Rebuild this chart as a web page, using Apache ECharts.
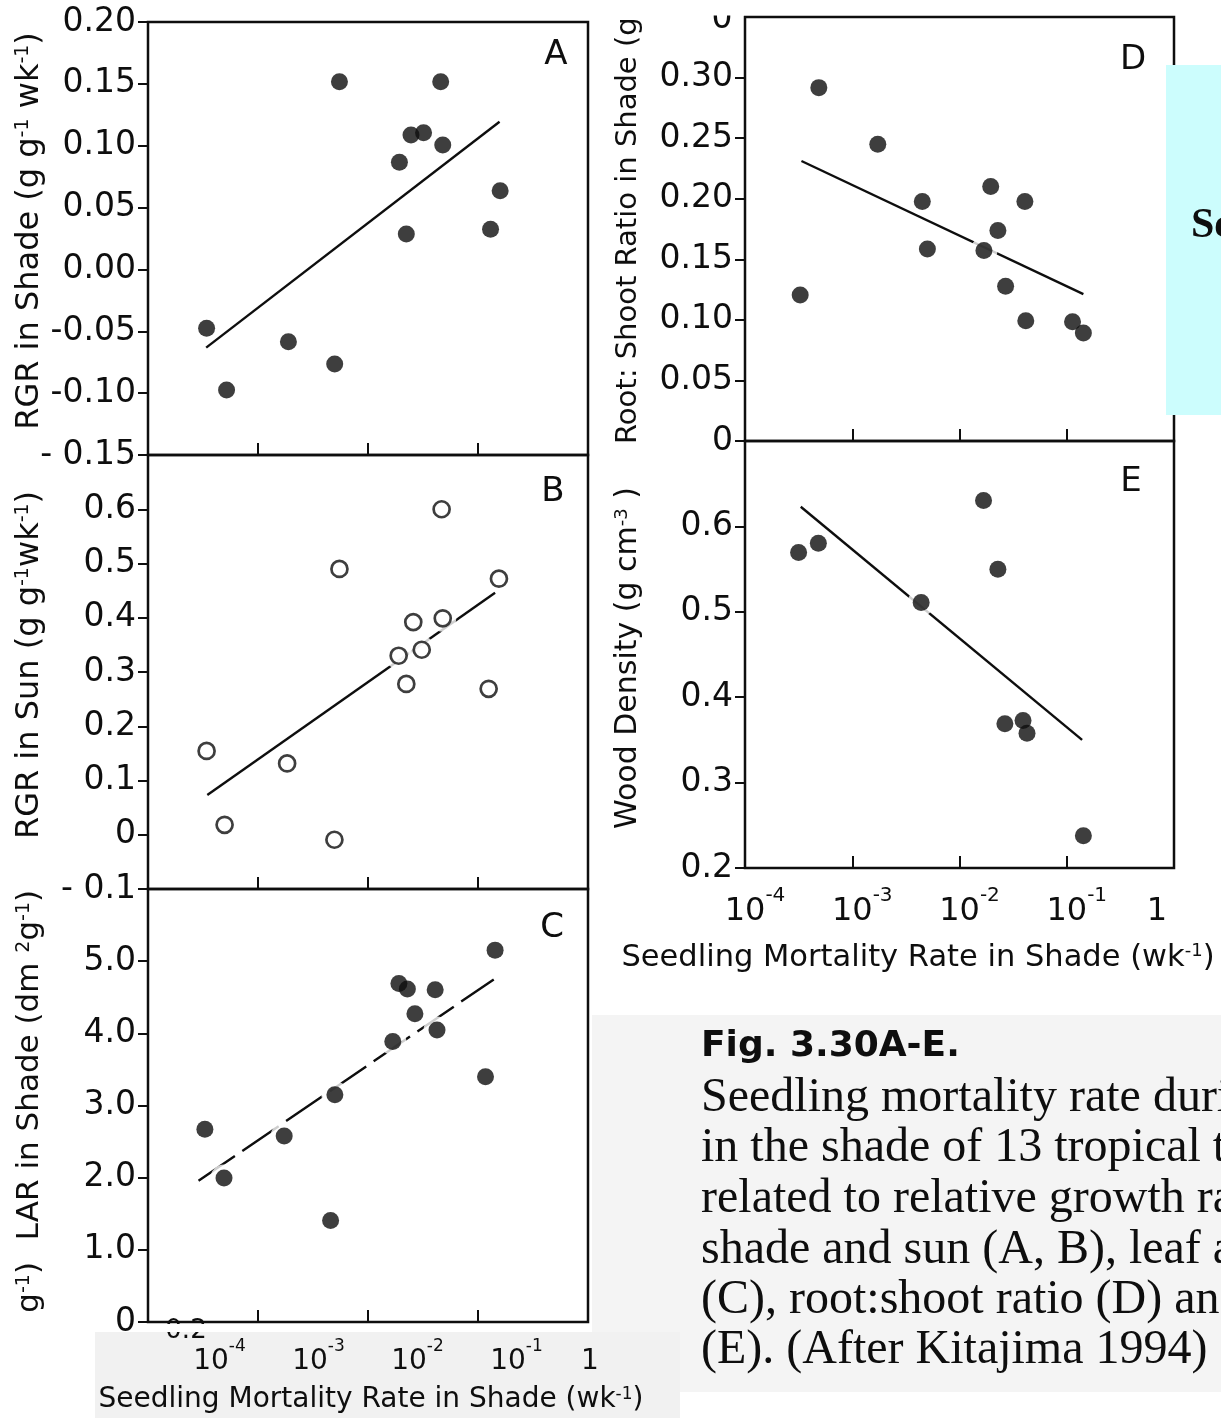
<!DOCTYPE html>
<html><head><meta charset="utf-8">
<script src="https://cdn.jsdelivr.net/npm/echarts@6/dist/echarts.min.js"></script>
<style>html,body{margin:0;padding:0;background:#fff}#chart{width:1221px;height:1418px}</style>
</head><body><div id="chart"></div>
<script>
// ---------- data ----------
// Panel A: RGR in shade vs seedling mortality in shade
const mortA = [3.41e-4, 5.18e-4, 1.89e-3, 4.98e-3, 5.50e-3, 0.0193, 0.0223, 0.0246, 0.0320, 0.0458, 0.0478, 0.130, 0.159];
const rgrShade = [-0.0476, -0.0975, -0.0584, -0.0764, 0.1517, 0.0866, 0.0286, 0.1087, 0.1105, 0.1517, 0.1006, 0.0324, 0.0636];
const fitAx = [3.38e-4, 0.157];
const fitAy = [-0.0632, 0.1194];
// Panel B: RGR in sun
const mortB = [3.41e-4, 4.97e-4, 1.84e-3, 5.50e-3, 4.95e-3, 0.0190, 0.0223, 0.0258, 0.0308, 0.0467, 0.0478, 0.125, 0.155];
const rgrSun = [0.1545, 0.0183, 0.1314, 0.490, -0.0092, 0.330, 0.278, 0.392, 0.341, 0.600, 0.399, 0.269, 0.472];
const fitBx = [3.46e-4, 0.143];
const fitBy = [0.0733, 0.446];
// Panel C: LAR in shade
const mortC = [3.29e-4, 4.91e-4, 1.73e-3, 5.0e-3, 4.57e-3, 0.0168, 0.0191, 0.0228, 0.0267, 0.0408, 0.0424, 0.117, 0.143];
const larShade = [2.672, 1.994, 2.576, 3.149, 1.407, 3.888, 4.690, 4.614, 4.270, 4.604, 4.046, 3.397, 5.153];
const fitCx = [2.88e-4, 0.139];
const fitCy = [1.956, 4.747];
// Panel D: root:shoot ratio in shade
const mortD = [3.27e-4, 4.88e-4, 1.73e-3, 4.50e-3, 5.02e-3, 0.01954, 0.0169, 0.0228, 0.0269, 0.0407, 0.0415, 0.1132, 0.1429];
const rootShoot = [0.1205, 0.2917, 0.2449, 0.1977, 0.1585, 0.2101, 0.1572, 0.1737, 0.1277, 0.1977, 0.0993, 0.0984, 0.0891];
const fitDx = [3.36e-4, 0.1429];
const fitDy = [0.2311, 0.1213];
// Panel E: wood density
const mortE = [3.16e-4, 4.83e-4, 4.39e-3, 0.01675, 0.0228, 0.0265, 0.0391, 0.0426, 0.1429];
const woodDensity = [0.5694, 0.5803, 0.5108, 0.6302, 0.5497, 0.3688, 0.3726, 0.3579, 0.2377];
const fitEx = [3.31e-4, 0.139];
const fitEy = [0.623, 0.35];

// tick labels
const xTickText = [['10','-4'],['10','-3'],['10','-2'],['10','-1'],['1','']];
const yTicksA = [-0.15,-0.10,-0.05,0,0.05,0.10,0.15,0.20];
const yLabelsA = ['- 0.15','-0.10','-0.05','0.00','0.05','0.10','0.15','0.20'];
const yTicksB = [-0.1,0,0.1,0.2,0.3,0.4,0.5,0.6];
const yLabelsB = ['- 0.1','0','0.1','0.2','0.3','0.4','0.5','0.6'];
const yTicksC = [0,1,2,3,4,5];
const yLabelsC = ['0','1.0','2.0','3.0','4.0','5.0'];
const yTicksD = [0,0.05,0.10,0.15,0.20,0.25,0.30];
const yLabelsD = ['0','0.05','0.10','0.15','0.20','0.25','0.30'];
const yTicksE = [0.2,0.3,0.4,0.5,0.6];
const yLabelsE = ['0.2','0.3','0.4','0.5','0.6'];

// ---------- chart ----------
const INK = '#0e0e0e';
const SANS = 'DejaVu Sans';
const SERIF = 'Liberation Serif';
const chart = echarts.init(document.getElementById('chart'), null, {renderer: 'canvas'});

const frame = {show: true, borderColor: INK, borderWidth: 2.5, backgroundColor: 'transparent'};
const grids = [
  Object.assign({left: 148, top: 22, width: 440, height: 433}, frame),
  Object.assign({left: 148, top: 455, width: 440, height: 434}, frame),
  Object.assign({left: 148, top: 889, width: 440, height: 433}, frame),
  Object.assign({left: 745, top: 17, width: 429, height: 424}, frame),
  Object.assign({left: 745, top: 441, width: 429, height: 427}, frame),
  {left: 211, top: 1325, width: 396, height: 5, show: false}
];

function xLabelFmt(v) {
  const t = xTickText[Math.round(Math.log10(v)) + 4];
  if (!t) return '';
  return t[1] ? '{b|' + t[0] + '}{s|' + t[1] + '}' : '{o|' + t[0] + '}';
}
function xRich(size) {
  const sup = Math.round(size * 0.62);
  const padL = Math.round(sup * 1.0);
  return {
    b: {fontSize: size, fontFamily: SANS, color: INK, padding: [10, 0, 0, padL]},
    s: {fontSize: sup, fontFamily: SANS, color: INK, verticalAlign: 'top'},
    o: {fontSize: size, fontFamily: SANS, color: INK, padding: [10, 34, 0, 0]}
  };
}
function xAxisCfg(gi, showLabels, size, margin, z) {
  return {
    type: 'log', logBase: 10, min: 1e-4, max: 1, gridIndex: gi, z: z || 0,
    axisLine: {show: false, onZero: false},
    axisTick: {show: gi < 5, inside: true, length: 12, lineStyle: {color: INK, width: 2}},
    splitLine: {show: false}, minorTick: {show: false},
    axisLabel: {show: showLabels, formatter: xLabelFmt, rich: xRich(size || 28), margin: margin || 20}
  };
}
function yAxisCfg(gi, min, max, interval, ticks, labels) {
  return {
    type: 'value', gridIndex: gi, min: min, max: max, interval: interval,
    axisLine: {show: false, onZero: false}, splitLine: {show: false},
    axisTick: {show: true, length: 10, lineStyle: {color: INK, width: 2}, customValues: ticks},
    axisLabel: {
      customValues: ticks, margin: 12, fontFamily: SANS, fontSize: 33, color: INK,
      formatter: function (v) {
        for (let i = 0; i < ticks.length; i++) if (Math.abs(v - ticks[i]) < 1e-9) return labels[i];
        return '';
      }
    }
  };
}

function panelSeries(idx, xs, ys, fx, fy, hollow, dashed) {
  const pts = xs.map((x, i) => [x, ys[i]]);
  return [
    {type: 'line', xAxisIndex: idx, yAxisIndex: idx, data: fx.map((x, i) => [x, fy[i]]),
     symbol: 'none', silent: true, z: 2,
     lineStyle: {color: INK, width: 2.4, type: dashed ? [44, 9] : 'solid'}},
    {type: 'scatter', xAxisIndex: idx, yAxisIndex: idx, data: pts, symbolSize: 27,
     itemStyle: {color: '#ffffff'}, silent: true, z: 3},
    {type: 'scatter', xAxisIndex: idx, yAxisIndex: idx, data: pts, symbolSize: hollow ? 16 : 17, z: 4,
     itemStyle: hollow ? {color: '#ffffff', borderColor: INK, borderWidth: 2.7} : {color: INK}}
  ];
}

const supRich = function (size) {
  return {
    s: {fontSize: Math.round(size * 0.6), fontFamily: SANS, fill: INK, verticalAlign: 'top'}
  };
};
function vText(x, y, text, size, align, z) {
  return {type: 'text', x: x, y: y, rotation: Math.PI / 2, z: z || 5, silent: true,
    style: {text: text, fill: INK, fontSize: size, fontFamily: SANS, align: align || 'center',
            verticalAlign: 'middle', rich: supRich(size)}};
}
function hText(x, y, text, size, opts) {
  opts = opts || {};
  return {type: 'text', x: x, y: y, z: opts.z || 5, silent: true,
    style: {text: text, fill: opts.fill || INK, fontSize: size, fontFamily: opts.family || SANS,
            fontWeight: opts.weight || 'normal', align: opts.align || 'center',
            verticalAlign: 'middle', rich: supRich(size)}};
}
function rect(x, y, w, h, fill, z) {
  return {type: 'rect', shape: {x: x, y: y, width: w, height: h}, style: {fill: fill}, z: z, silent: true};
}

const graphics = [
  rect(592, 1015, 629, 377, '#f4f4f4', -1),
  rect(95, 1332, 585, 86, '#f1f1f1', 6),
  hText(186, 1331, '0.2', 26, {z: 7}),
  rect(150, 1324, 75, 8, '#ffffff', 8),
  rect(0, 1332, 95, 86, '#ffffff', 8),
  rect(596, 0, 148, 15.5, '#ffffff', 8),
  hText(722, 19, '0', 33, {z: 5}),
  rect(1166, 65, 55, 350, '#ccfdfd', 6),
  hText(1191, 226, 'Seedling', 42, {family: SERIF, weight: 'bold', align: 'left', z: 7}),
  // axis titles
  vText(30, 231, 'RGR in Shade (g g{s|-1} wk{s|-1})', 32),
  vText(30, 665, 'RGR in Sun (g g{s|-1}wk{s|-1})', 32),
  vText(30, 1065, 'LAR in Shade (dm {s|2}g{s|-1})', 31),
  vText(30, 1262, 'g{s|-1})', 31, 'right'),
  vText(628, 444, 'Root: Shoot Ratio in Shade (g g{s|-1})', 29, 'left'),
  vText(628, 658, 'Wood Density (g cm{s|-3} )', 30),
  hText(371, 1400, 'Seedling Mortality Rate in Shade (wk{s|-1})', 28, {z: 9}),
  hText(918, 958, 'Seedling Mortality Rate in Shade (wk{s|-1})', 30.5, {z: 9}),
  // panel letters
  hText(556, 55, 'A', 34), hText(553, 492, 'B', 34), hText(552, 928, 'C', 34),
  hText(1133, 60, 'D', 34), hText(1131, 482, 'E', 34),
  // caption
  hText(701, 1047, 'Fig. 3.30A-E.', 36, {weight: 'bold', align: 'left', z: 9}),
  hText(701, 1098, 'Seedling mortality rate during the first year', 48, {family: SERIF, align: 'left', z: 9}),
  hText(701, 1148, 'in the shade of 13 tropical tree species', 48, {family: SERIF, align: 'left', z: 9}),
  hText(701, 1199, 'related to relative growth rate in', 48, {family: SERIF, align: 'left', z: 9}),
  hText(701, 1250, 'shade and sun (A, B), leaf area ratio', 48, {family: SERIF, align: 'left', z: 9}),
  hText(701, 1300, '(C), root:shoot ratio (D) and wood density', 48, {family: SERIF, align: 'left', z: 9}),
  hText(701, 1350, '(E). (After Kitajima 1994)', 48, {family: SERIF, align: 'left', z: 9})
];

const option = {
  animation: false,
  backgroundColor: '#ffffff',
  grid: grids,
  xAxis: [
    xAxisCfg(0, false), xAxisCfg(1, false), xAxisCfg(2, false), xAxisCfg(3, false),
    xAxisCfg(4, true, 32, 18),
    xAxisCfg(5, true, 28, 8, 9)
  ],
  yAxis: [
    yAxisCfg(0, -0.15, 0.20, 0.05, yTicksA, yLabelsA),
    yAxisCfg(1, -0.1, 0.7, 0.1, yTicksB, yLabelsB),
    yAxisCfg(2, 0, 6, 1, yTicksC, yLabelsC),
    yAxisCfg(3, 0, 0.35, 0.05, yTicksD, yLabelsD),
    yAxisCfg(4, 0.2, 0.7, 0.1, yTicksE, yLabelsE),
    {type: 'value', gridIndex: 5, show: false, min: 0, max: 1}
  ],
  series: [].concat(
    panelSeries(0, mortA, rgrShade, fitAx, fitAy, false, false),
    panelSeries(1, mortB, rgrSun, fitBx, fitBy, true, false),
    panelSeries(2, mortC, larShade, fitCx, fitCy, false, true),
    panelSeries(3, mortD, rootShoot, fitDx, fitDy, false, false),
    panelSeries(4, mortE, woodDensity, fitEx, fitEy, false, false)
  ),
  graphic: {elements: graphics}
};
chart.setOption(option);
</script></body></html>
